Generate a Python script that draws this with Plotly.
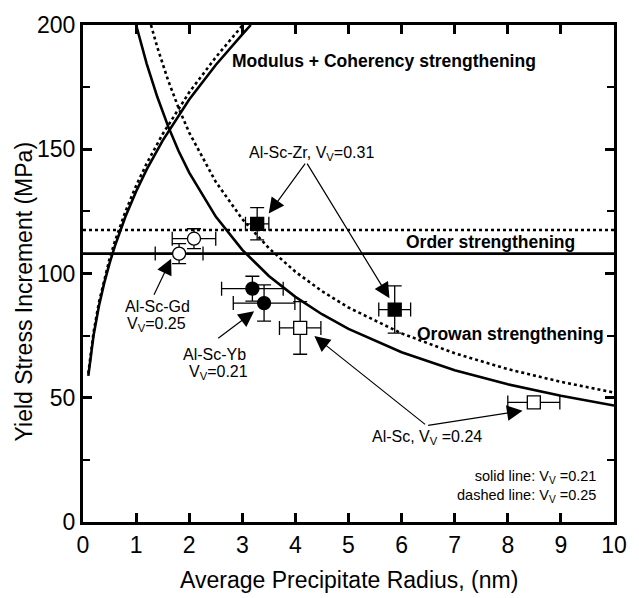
import plotly.graph_objects as go

# ---------------- data ----------------
# Orowan strengthening (solid: Vv=0.21, dashed: Vv=0.25)
orowan_solid_r = [1.0, 1.2, 1.4, 1.6, 1.8, 2.0, 2.5, 3.0, 3.5, 4.0, 4.5, 5.0, 6.0, 7.0, 8.0, 9.0, 10.0]
orowan_solid_s = [200, 184.4, 171.0, 159.4, 149.3, 140.6, 122.9, 109.5, 99.0, 90.6, 83.6, 77.7, 68.3, 61.1, 55.4, 50.8, 46.9]
orowan_dash_r = [1.28, 1.4, 1.6, 1.8, 2.0, 2.5, 3.0, 3.5, 4.0, 4.5, 5.0, 6.0, 7.0, 8.0, 9.0, 10.0]
orowan_dash_s = [200, 191.0, 177.9, 166.6, 156.7, 136.9, 121.9, 110.2, 100.7, 92.9, 86.3, 75.9, 67.9, 61.5, 56.4, 52.1]

# Modulus + coherency strengthening
mod_solid_r = [0.1, 0.15, 0.2, 0.3, 0.4, 0.5, 0.6, 0.8, 1.0, 1.2, 1.5, 2.0, 2.5, 3.0, 3.16]
mod_solid_s = [58.8, 67.9, 75.2, 86.9, 96.2, 104.1, 111.0, 122.9, 133.0, 141.9, 153.5, 170.0, 183.9, 196.2, 200]
mod_dash_r = [0.1, 0.15, 0.2, 0.3, 0.4, 0.5, 0.6, 0.8, 1.0, 1.2, 1.5, 2.0, 2.5, 3.01]
mod_dash_s = [59.8, 69.1, 76.5, 88.4, 97.8, 105.9, 112.9, 125.0, 135.3, 144.3, 156.1, 172.9, 187.0, 200]

# Order strengthening
order_r = [0, 10]
order_solid_s = [108, 108]
order_dash_s = [117.5, 117.5]

# Experimental points
zr_x = [3.28, 5.87]; zr_y = [120, 85.5]; zr_xerr = [0.22, 0.30]; zr_yerr = [6.5, 9.5]
gd_x = [2.09, 1.81]; gd_y = [114, 108]; gd_xerr = [0.41, 0.45]; gd_yerr = [4.0, 4.0]
yb_x = [3.19, 3.41]; yb_y = [93.9, 88.1]; yb_xerr = [0.58, 0.58]; yb_yerr = [5.0, 7.3]
sc_x = [4.09, 8.49]; sc_y = [78.1, 48.1]; sc_xerr = [0.39, 0.49]; sc_yerr = [10.6, 0]

x_ticks = [0, 1, 2, 3, 4, 5, 6, 7, 8, 9, 10]
y_ticks = [0, 50, 100, 150, 200]

FONT = "Liberation Sans, Arial, Helvetica, sans-serif"

fig = go.Figure()

def line(x, y, dash):
    fig.add_trace(go.Scatter(x=x, y=y, mode="lines", showlegend=False, hoverinfo="skip",
                             line=dict(color="black", width=2.6, dash=dash)))

line(order_r, order_solid_s, "solid")
line(order_r, order_dash_s, "dot")
line(orowan_solid_r, orowan_solid_s, "solid")
line(orowan_dash_r, orowan_dash_s, "dot")
line(mod_solid_r, mod_solid_s, "solid")
line(mod_dash_r, mod_dash_s, "dot")

def pts(x, y, xe, ye, symbol, fill):
    fig.add_trace(go.Scatter(
        x=x, y=y, mode="markers", showlegend=False,
        marker=dict(symbol=symbol, size=13, color=fill, line=dict(color="black", width=1.3)),
        error_x=dict(type="data", array=xe, color="black", thickness=1.3, width=7),
        error_y=dict(type="data", array=ye, color="black", thickness=1.3, width=7),
    ))

pts(zr_x, zr_y, zr_xerr, zr_yerr, "square", "black")
pts(gd_x, gd_y, gd_xerr, gd_yerr, "circle", "white")
pts(yb_x, yb_y, yb_xerr, yb_yerr, "circle", "black")
pts(sc_x, sc_y, sc_xerr, sc_yerr, "square", "white")

ann = []
def text(x, y, t, size, bold=False, xanchor="center", align="center"):
    if bold:
        t = "<b>" + t + "</b>"
    ann.append(dict(x=x, y=y, xref="x", yref="y", text=t, showarrow=False,
                    xanchor=xanchor, yanchor="middle", align=align,
                    font=dict(family=FONT, size=size, color="black")))

def arrow(tx, ty, sx, sy):
    ann.append(dict(x=tx, y=ty, ax=sx, ay=sy, xref="x", yref="y", axref="x", ayref="y",
                    text="", showarrow=True, arrowhead=2, arrowsize=2.6, arrowwidth=1.2,
                    arrowcolor="black", standoff=0, startstandoff=0))

text(5.66, 185.6, "Modulus + Coherency strengthening", 17.5, bold=True)
text(7.67, 112.8, "Order strengthening", 17.5, bold=True)
text(8.06, 75.6, "Orowan strengthening", 17.5, bold=True)
text(4.31, 148.1, "Al-Sc-Zr, V<sub>V</sub>=0.31", 16)
text(1.40, 86.8, "Al-Sc-Gd", 16)
text(1.38, 79.4, "V<sub>V</sub>=0.25", 16)
text(2.475, 67.5, "Al-Sc-Yb", 16)
text(2.55, 60.2, "V<sub>V</sub>=0.21", 16)
text(6.47, 34.1, "Al-Sc, V<sub>V</sub> =0.24", 16)
text(9.70, 14.2, "solid line: V<sub>V</sub> =0.21<br>dashed line: V<sub>V</sub> =0.25", 14.5,
     xanchor="right", align="right")

arrow(3.498, 124.1, 4.204, 144.8)
arrow(5.772, 90.0, 4.204, 144.8)
arrow(1.66, 105.9, 1.324, 90.8)
arrow(3.222, 84.8, 2.518, 73.5)
arrow(4.357, 74.8, 6.471, 38.8)
arrow(8.278, 44.8, 6.471, 38.8)

# axis titles
ann.append(dict(x=0.5, y=-0.116, xref="paper", yref="paper", showarrow=False,
                text="Average Precipitate Radius, (nm)", xanchor="center", yanchor="middle",
                font=dict(family=FONT, size=23, color="black")))
ann.append(dict(x=-0.111, y=0.464, xref="paper", yref="paper", showarrow=False,
                text="Yield Stress Increment (MPa)", textangle=-90,
                xanchor="center", yanchor="middle",
                font=dict(family=FONT, size=23, color="black")))

fig.update_layout(
    width=639, height=598,
    margin=dict(l=83, r=12, t=22, b=76),
    paper_bgcolor="white", plot_bgcolor="white",
    annotations=ann,
    font=dict(family=FONT, color="black"),
    xaxis=dict(range=[0, 10], tickvals=x_ticks, ticktext=[str(v) for v in x_ticks],
               showgrid=False, zeroline=False, showline=True, linecolor="black", linewidth=3,
               mirror="ticks", ticks="inside", ticklen=9, tickwidth=3, tickcolor="black",
               tickfont=dict(family=FONT, size=23, color="black")),
    yaxis=dict(range=[0, 200], tickvals=y_ticks, ticktext=[str(v) for v in y_ticks],
               showgrid=False, zeroline=False, showline=True, linecolor="black", linewidth=3,
               mirror="ticks", ticks="inside", ticklen=9, tickwidth=3, tickcolor="black",
               tickfont=dict(family=FONT, size=23, color="black"),
               minor=dict(tickvals=[25, 75, 125, 175], ticks="inside", ticklen=7,
                          tickwidth=2, tickcolor="black")),
)

fig.write_html("out.html")
